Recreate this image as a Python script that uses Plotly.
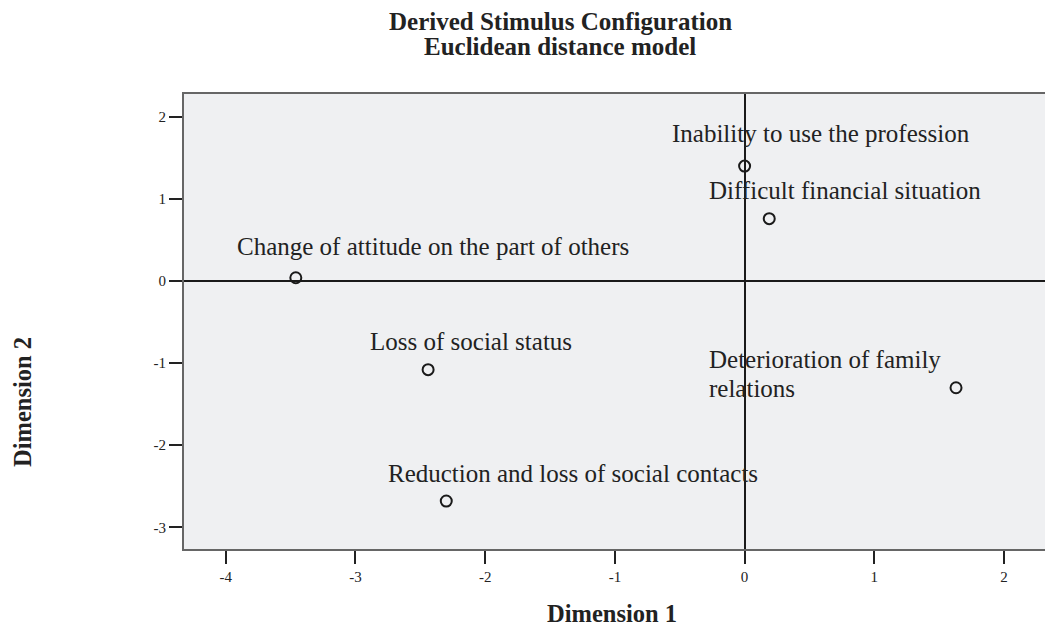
import plotly.graph_objects as go

# Data
labels = [
    "Inability to use the profession",
    "Difficult financial situation",
    "Change of attitude on the part of others",
    "Loss of social status",
    "Deterioration of family<br>relations",
    "Reduction and loss of social contacts",
]
dim1 = [0.00, 0.19, -3.46, -2.44, 1.63, -2.30]
dim2 = [1.40, 0.76, 0.04, -1.08, -1.30, -2.68]
# label offsets in pixels (text left edge / vertical centre of first line relative to point)
label_dx = [-75, -62, -61, -60, -249, -60]
label_dy = [-33, -28, -31, -28, -28, -28]
LINE_GAP = 29

x_ticks = [-4, -3, -2, -1, 0, 1, 2]
y_ticks = [-3, -2, -1, 0, 1, 2]

title_lines = ["Derived Stimulus Configuration", "Euclidean distance model"]

FONT = "Liberation Serif"
W, H = 1045, 631
L, T, B, R = 184, 94, 82, 0
PW, PH = W - L - R, H - T - B

fig = go.Figure()
fig.add_trace(go.Scatter(
    x=dim1, y=dim2, mode="markers",
    marker=dict(symbol="circle-open", size=11, color="#1a1a1a", line=dict(width=2, color="#1a1a1a")),
    showlegend=False, hoverinfo="skip",
))

for lab, x, y, dx, dy in zip(labels, dim1, dim2, label_dx, label_dy):
    for i, line in enumerate(lab.split("<br>")):
        fig.add_annotation(
            x=x, y=y, xref="x", yref="y", text=line, showarrow=True,
            arrowcolor="rgba(0,0,0,0)", arrowwidth=0.1, ax=dx, ay=dy + i * LINE_GAP,
            xanchor="left", yanchor="middle", align="left",
            font=dict(family=FONT, size=25, color="#222222"),
            standoff=0, startstandoff=0,
        )

for i, line in enumerate(title_lines):
    fig.add_annotation(
        text="<b>" + line + "</b>", xref="paper", yref="paper",
        x=(560 - L) / PW, y=(H - B - (22 + 25 * i)) / PH, showarrow=False,
        xanchor="center", yanchor="middle",
        font=dict(family=FONT, size=25, color="#222222"),
    )

fig.add_annotation(
    text="<b>Dimension 1</b>", xref="paper", yref="paper",
    x=(612 - L) / PW, y=(H - B - 613) / PH, showarrow=False,
    xanchor="center", yanchor="middle",
    font=dict(family=FONT, size=24.5, color="#222222"),
)
fig.add_annotation(
    text="<b>Dimension 2</b>", xref="paper", yref="paper",
    x=(22 - L) / PW, y=(H - B - 402) / PH, showarrow=False,
    xanchor="center", yanchor="middle", textangle=-90,
    font=dict(family=FONT, size=24.5, color="#222222"),
)

fig.update_layout(
    width=W, height=H,
    margin=dict(l=L, r=R, t=T, b=B),
    paper_bgcolor="white",
    plot_bgcolor="#EFF0F2",
    xaxis=dict(
        range=[-4.322, 2.316], tickvals=x_ticks, ticktext=[str(v) for v in x_ticks],
        showgrid=False, zeroline=True, zerolinecolor="#1a1a1a", zerolinewidth=2,
        showline=True, linecolor="#666666", linewidth=2, mirror=True,
        ticks="outside", ticklen=13, tickwidth=2, tickcolor="#222222",
        tickfont=dict(family=FONT, size=15, color="#222222"),
        fixedrange=True,
    ),
    yaxis=dict(
        range=[-3.264, 2.278], tickvals=y_ticks, ticktext=[str(v) for v in y_ticks],
        showgrid=False, zeroline=True, zerolinecolor="#1a1a1a", zerolinewidth=2,
        showline=True, linecolor="#666666", linewidth=2, mirror=False,
        ticks="outside", ticklen=13, tickwidth=2, tickcolor="#222222",
        tickfont=dict(family=FONT, size=15, color="#222222"),
        fixedrange=True,
    ),
)

fig.write_html("out.html", config={"displayModeBar": False},
               post_script="document.body.style.margin='0';")
